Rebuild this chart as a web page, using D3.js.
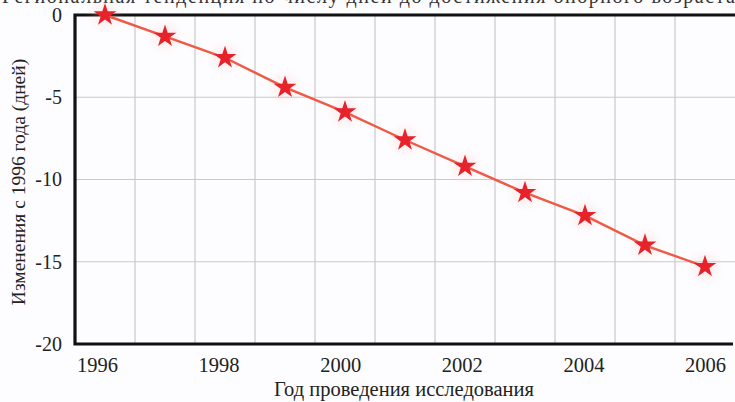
<!DOCTYPE html>
<html>
<head>
<meta charset="utf-8">
<script src="https://cdn.jsdelivr.net/npm/d3@7"></script>
<style>
  html, body { margin: 0; padding: 0; background: #fdfdff; }
  svg { display: block; }
  text { font-family: "Liberation Serif", "DejaVu Serif", serif; fill: #222; }
</style>
</head>
<body>
<svg id="chart" width="735" height="402"></svg>
<script>
const years = [1996, 1997, 1998, 1999, 2000, 2001, 2002, 2003, 2004, 2005, 2006];
const change = [0, -1.3, -2.6, -4.4, -5.9, -7.6, -9.2, -10.8, -12.2, -14.0, -15.3];
const yTicks = [0, -5, -10, -15, -20];
const xTickLabels = [1996, 1998, 2000, 2002, 2004, 2006];
const titleText = "Региональная тенденция по числу дней до достижения опорного возраста";
const xTitle = "Год проведения исследования";
const yTitle = "Изменения с 1996 года (дней)";

const svg = d3.select("#chart");
const W = 735, H = 402;
const m = { left: 75, right: 0, top: 15, bottom: 58 };

const x = d3.scaleLinear().domain([1995.5, 2006.5]).range([m.left, W - m.right]);
const xLab = d3.scaleLinear().domain([1996, 2006]).range([97, 705]);
const y = d3.scaleLinear().domain([-20, 0]).range([H - m.bottom, m.top]);

svg.append("rect").attr("width", W).attr("height", H).attr("fill", "#fdfdff");

// title (cut off at top in the reference)
svg.append("text").attr("x", 2).attr("y", 3)
  .attr("font-size", 20).attr("textLength", 733).attr("lengthAdjust", "spacing")
  .style("fill", "#333").text(titleText);

// grid
const gridV = d3.range(1996.5, 2006, 1);
svg.append("g").selectAll("line").data(gridV).join("line")
  .attr("x1", d => x(d)).attr("x2", d => x(d))
  .attr("y1", y(0)).attr("y2", y(-20))
  .attr("stroke", "#c9c9cc").attr("stroke-width", 1.2);
svg.append("g").selectAll("line").data(yTicks.filter(d => d !== 0 && d !== -20)).join("line")
  .attr("x1", m.left).attr("x2", W)
  .attr("y1", d => y(d)).attr("y2", d => y(d))
  .attr("stroke", "#c9c9cc").attr("stroke-width", 1.2);

// frame (left, top, bottom)
svg.append("path")
  .attr("d", `M${W + 2},${y(0)} H${x(1995.5)} V${y(-20)} H${W - 2}`)
  .attr("fill", "none").attr("stroke", "#111").attr("stroke-width", 3.2);

// y axis labels
const yAxis = d3.axisLeft(y).tickValues(yTicks).tickSize(0).tickPadding(13)
  .tickFormat(d => String(d));
const gy = svg.append("g").attr("transform", `translate(${m.left},0)`).call(yAxis);
gy.select(".domain").remove();
gy.selectAll("text").attr("font-size", 20).style("font-family", "Liberation Serif, serif").style("fill", "#222");

// x axis labels
const xAxis = d3.axisBottom(xLab).tickValues(xTickLabels).tickSize(0).tickPadding(13)
  .tickFormat(d => String(d));
const gx = svg.append("g").attr("transform", `translate(0,${y(-20)})`).call(xAxis);
gx.select(".domain").remove();
gx.selectAll("text").attr("font-size", 20.5).style("font-family", "Liberation Serif, serif").style("fill", "#222");

// axis titles
svg.append("text").attr("x", 404).attr("y", 396).attr("text-anchor", "middle")
  .attr("font-size", 20.5).text(xTitle);
svg.append("text").attr("transform", `translate(25,${182}) rotate(-90)`)
  .attr("text-anchor", "middle").attr("font-size", 19.5).text(yTitle);

// data
const data = years.map((yr, i) => ({ yr, v: change[i] }));
const defs = svg.append("defs");
const f = defs.append("filter").attr("id", "blur").attr("x", "-50%").attr("y", "-50%").attr("width", "200%").attr("height", "200%");
f.append("feGaussianBlur").attr("stdDeviation", 0.7);
const glow = defs.append("filter").attr("id", "glow").attr("x", "-100%").attr("y", "-100%").attr("width", "300%").attr("height", "300%");
glow.append("feGaussianBlur").attr("stdDeviation", 5);

svg.append("g").selectAll("circle").data(data).join("circle")
  .attr("cx", d => x(d.yr)).attr("cy", d => y(d.v)).attr("r", 13)
  .attr("fill", "#f8b8b0").attr("opacity", 0.2).attr("filter", "url(#glow)");

svg.append("path").datum(data)
  .attr("d", d3.line().x(d => x(d.yr)).y(d => y(d.v)))
  .attr("fill", "none").attr("stroke", "#ef5a46").attr("stroke-width", 2.4);

svg.append("g").selectAll("path").data(data).join("path")
  .attr("transform", d => `translate(${x(d.yr)},${y(d.v)})`)
  .attr("d", d3.symbol().type(d3.symbolStar).size(160))
  .attr("fill", "#e8222c").attr("filter", "url(#blur)");
</script>
</body>
</html>
